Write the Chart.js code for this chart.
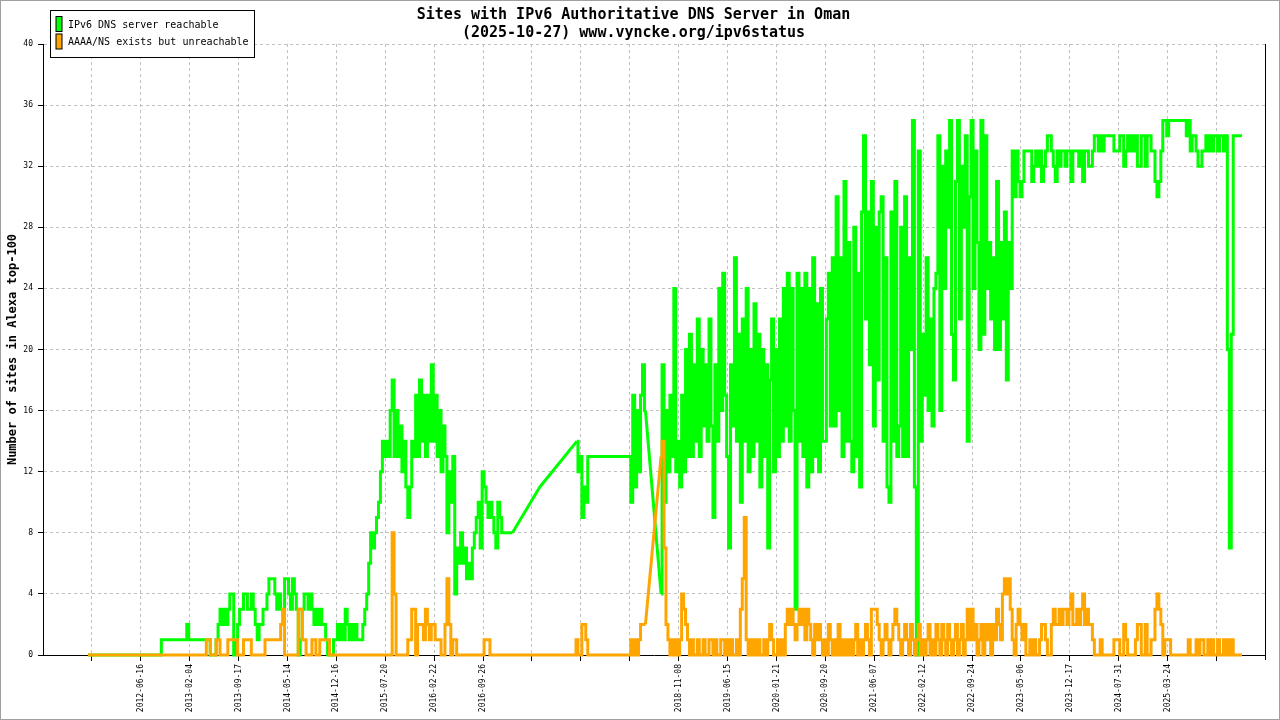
<!DOCTYPE html>
<html>
<head>
<meta charset="utf-8">
<script src="https://cdn.jsdelivr.net/npm/chart.js@4.4.1/dist/chart.umd.min.js"></script>
<style>
  html, body { margin: 0; padding: 0; background: #fff; }
  canvas { display: block; }
</style>
</head>
<body>
<canvas id="c" width="1280" height="720"></canvas>
<script>
// ---------- text ----------
const chartTitle = ['Sites with IPv6 Authoritative DNS Server in Oman', '(2025-10-27) www.vyncke.org/ipv6status'];
const yAxisTitle = 'Number of sites in Alexa top-100';
const seriesNames = ['IPv6 DNS server reachable', 'AAAA/NS exists but unreachable'];

// ---------- x axis: one entry per tick (empty = tick without label) ----------
const tickLabels = ['', '2012-06-16', '2013-02-04', '2013-09-17', '2014-05-14', '2014-12-16',
  '2015-07-20', '2016-02-22', '2016-09-26', '', '', '', '2018-11-08', '2019-06-15',
  '2020-01-21', '2020-09-20', '2021-06-07', '2022-02-12', '2022-09-24', '2023-05-06',
  '2023-12-17', '2024-07-31', '2025-03-24', ''];

// samples are read every 1/25 of a tick interval, starting just before the first tick
const sampleStart = -0.08;
const sampleStep = 0.04;

// ---------- series (null = no sample, a straight line spans the gap) ----------
const reachable = [
  0,0,
  0,0,0,0,0,0,0,0,0,0,0,0,0,0,0,0,0,0,0,0,0,0,0,0,0,
  0,0,0,0,0,0,0,0,0,0,0,1,1,1,1,1,1,1,1,1,1,1,1,1,2,
  1,1,1,1,1,1,1,1,1,1,1,0,0,0,1,2,3,2,3,2,3,4,4,0,1,
  2,3,3,4,4,3,3,4,3,2,1,2,2,3,3,4,5,5,5,4,3,4,3,3,5,
  5,4,3,5,4,3,0,1,3,4,4,3,4,3,2,3,2,3,2,2,1,0,0,0,1,
  1,2,1,2,1,3,2,1,2,1,2,1,1,1,2,3,4,6,8,7,8,9,10,12,14,
  13,14,13,16,18,13,16,13,15,12,14,11,9,11,14,13,17,13,18,14,17,13,17,14,19,
  14,17,13,16,12,15,13,8,12,10,13,4,7,6,8,6,7,5,6,5,7,8,9,10,7,
  12,11,10,9,10,9,8,7,10,9,8,8,8,8,8,8,null,null,null,null,null,null,null,null,null,
  null,null,null,null,11,null,null,null,null,null,null,null,null,null,null,null,null,null,null,null,null,null,null,14,12,
  13,9,11,10,13,13,13,13,13,13,13,13,13,13,13,13,13,13,13,13,13,13,13,13,13,
  13,10,17,11,16,12,17,19,16,null,null,null,null,null,null,null,4,19,10,16,12,17,13,24,12,
  14,11,17,12,20,13,21,13,19,14,22,13,20,15,19,14,22,15,9,19,14,24,16,25,17,
  13,7,19,15,26,14,21,10,22,14,24,12,20,13,23,14,21,11,20,13,19,7,18,22,12,
  20,13,22,14,24,15,25,14,24,16,3,25,14,24,13,25,11,24,12,26,13,23,12,24,14,
  14,22,25,15,26,15,30,16,26,13,31,14,27,14,12,28,13,25,11,29,34,22,29,19,31,
  15,28,18,29,30,14,26,11,10,29,14,31,13,15,28,13,30,13,26,20,35,11,0,33,14,
  21,17,26,16,22,15,24,25,34,16,32,24,33,28,35,21,18,31,35,22,32,28,34,14,30,
  35,24,33,27,20,35,21,34,24,27,22,26,20,31,20,27,22,29,18,27,24,33,30,33,31,
  30,31,33,33,33,33,31,32,33,32,33,31,32,33,34,34,33,32,31,33,32,33,33,32,33,
  33,31,33,33,33,32,33,31,33,33,32,32,33,34,34,33,34,33,34,34,34,34,34,33,33,
  33,34,34,32,33,34,33,34,33,34,32,32,34,34,32,34,34,33,33,31,30,31,33,35,35,
  34,35,35,35,35,35,35,35,35,35,34,35,33,34,34,33,32,32,33,33,34,33,34,33,34,
  34,33,34,34,33,34,20,7,21,34,34,34,34,34
];

const unreachable = [
  0,0,
  0,0,0,0,0,0,0,0,0,0,0,0,0,0,0,0,0,0,0,0,0,0,0,0,0,
  0,0,0,0,0,0,0,0,0,0,0,0,0,0,0,0,0,0,0,0,0,0,0,0,0,
  0,0,0,0,0,0,0,0,0,1,1,0,0,0,1,1,0,0,0,0,1,1,1,1,1,
  0,0,0,1,1,1,1,0,0,0,0,0,0,0,1,1,1,1,1,1,1,1,2,3,0,
  0,0,0,0,0,0,3,3,1,1,0,0,0,1,1,0,0,1,1,1,1,1,0,0,0,
  0,0,0,0,0,0,0,0,0,0,0,0,0,0,0,0,0,0,0,0,0,0,0,0,0,
  0,0,0,0,8,4,0,0,0,0,0,0,1,1,3,3,0,2,2,2,1,3,2,1,2,
  2,1,1,1,0,0,2,5,2,0,1,1,0,0,0,0,0,0,0,0,0,0,0,0,0,
  0,1,1,1,0,0,0,0,0,0,0,0,0,0,0,0,0,0,0,0,0,0,0,0,0,
  0,0,0,0,0,0,0,0,0,0,0,0,0,0,0,0,0,0,0,0,0,0,0,1,0,
  0,2,2,1,0,0,0,0,0,0,0,0,0,0,0,0,0,0,0,0,0,0,0,0,0,
  0,1,0,1,0,1,2,2,2,null,null,null,null,null,null,null,13,14,7,2,1,0,1,0,1,
  0,1,4,3,2,1,0,1,0,0,1,0,0,1,0,0,1,1,0,1,0,0,1,1,0,
  1,0,1,0,0,1,0,3,5,9,1,0,1,0,1,0,1,0,0,1,0,1,2,1,0,
  0,1,0,1,0,2,3,2,3,2,1,2,3,2,3,1,3,2,1,0,2,1,2,1,0,
  1,0,2,1,0,1,0,2,0,1,0,1,0,1,0,1,2,0,1,0,1,2,1,0,3,
  3,3,2,1,0,1,2,1,0,1,2,3,2,1,0,1,2,1,0,2,1,0,1,2,0,
  1,0,1,2,0,1,0,2,1,0,2,1,0,2,1,0,1,2,0,1,2,0,1,3,1,
  3,1,2,0,1,2,0,2,1,2,0,2,1,3,2,1,4,5,4,5,3,1,0,2,3,
  2,1,2,0,0,1,0,1,0,0,1,2,2,1,0,0,2,3,2,2,3,2,3,3,2,
  3,4,2,2,3,2,3,4,2,3,2,2,1,0,0,0,1,0,0,0,0,0,0,1,1,
  1,0,0,2,1,0,0,0,0,1,2,2,0,0,2,0,0,1,1,3,4,3,2,0,1,
  1,1,0,0,0,0,0,0,0,0,0,1,0,0,0,1,0,1,1,0,0,1,0,1,0,
  0,1,0,0,1,0,1,0,1,0,0,0,0,0
];

const seriesColors = ['#00ff00', '#ffa500'];
const yMax = 40;
const yStep = 4;
const xMin = -1.0;
const xMax = 23.99;

const toPoints = arr => arr.map((y, i) => ({ x: sampleStart + i * sampleStep, y: y }));

// each series: dense samples drawn as steps, gaps bridged with a straight line
function makeSeries(name, values, color, baseOrder) {
  return [
    { label: name, data: toPoints(values), borderColor: color, backgroundColor: color,
      borderWidth: 3, pointRadius: 0, stepped: 'middle', spanGaps: false,
      borderJoinStyle: 'miter', order: baseOrder + 1, clip: false },
    { label: name + ' (gap)', data: toPoints(values), borderColor: color, backgroundColor: color,
      borderWidth: 3, pointRadius: 0, spanGaps: true, tension: 0, borderJoinStyle: 'bevel',
      order: baseOrder, clip: false,
      segment: { borderColor: ctx => (ctx.p0.skip || ctx.p1.skip) ? color : 'rgba(0,0,0,0)' } }
  ];
}

const FONT = 'DejaVu Sans Mono';

const framePlugin = {
  id: 'frame',
  beforeDraw(chart) {
    const ctx = chart.ctx;
    ctx.save();
    ctx.fillStyle = '#ffffff';
    ctx.fillRect(0, 0, chart.width, chart.height);
    ctx.strokeStyle = '#a0a0a0';
    ctx.lineWidth = 1;
    ctx.strokeRect(0.5, 0.5, chart.width - 1, chart.height - 1);
    ctx.restore();
  },
  afterDraw(chart) {
    const a = chart.chartArea;
    const ctx = chart.ctx;
    ctx.save();
    ctx.strokeStyle = '#000';
    ctx.lineWidth = 1;
    ctx.beginPath();
    ctx.moveTo(Math.round(a.right) + 0.5, a.top);
    ctx.lineTo(Math.round(a.right) + 0.5, a.bottom + 5);
    ctx.stroke();
    ctx.restore();
  }
};

const boxLegend = {
  id: 'boxLegend',
  afterDraw(chart) {
    const ctx = chart.ctx;
    const a = chart.chartArea;
    const x = Math.round(a.left) + 7.5, y = 10.5, w = 204, h = 47;
    ctx.save();
    ctx.fillStyle = '#fff';
    ctx.fillRect(x, y, w, h);
    ctx.strokeStyle = '#000';
    ctx.lineWidth = 1;
    ctx.strokeRect(x, y, w, h);
    ctx.font = '10px "' + FONT + '"';
    ctx.textBaseline = 'middle';
    ctx.textAlign = 'left';
    seriesNames.forEach((name, i) => {
      const sy = y + 6 + i * 17.5;
      ctx.fillStyle = seriesColors[i];
      ctx.fillRect(x + 5.5, sy, 6, 15);
      ctx.strokeRect(x + 5.5, sy, 6, 15);
      ctx.fillStyle = '#000';
      ctx.fillText(name, x + 17.5, sy + 8.5);
    });
    ctx.restore();
  }
};

new Chart(document.getElementById('c').getContext('2d'), {
  type: 'line',
  data: {
    datasets: [
      ...makeSeries(seriesNames[0], reachable, seriesColors[0], 3),
      ...makeSeries(seriesNames[1], unreachable, seriesColors[1], 1)
    ]
  },
  options: {
    responsive: false,
    animation: false,
    devicePixelRatio: 1,
    events: [],
    layout: { padding: { left: 2, right: 15, top: 0, bottom: 8 } },
    plugins: {
      legend: { display: false },
      tooltip: { enabled: false },
      title: {
        display: true, text: chartTitle, color: '#000',
        font: { family: FONT, size: 15, weight: 'bold', lineHeight: 1.2 },
        padding: { top: 6, bottom: 2 }
      }
    },
    scales: {
      x: {
        type: 'linear', min: xMin, max: xMax,
        afterBuildTicks: scale => { scale.ticks = tickLabels.map((_, i) => ({ value: i })); },
        afterFit: scale => { scale.height = 57; },
        ticks: {
          autoSkip: false, minRotation: 90, maxRotation: 90, padding: 3, color: '#000',
          font: { family: FONT, size: 8 },
          callback: v => tickLabels[v] !== undefined ? tickLabels[v] : ''
        },
        grid: { color: '#c0c0c0', lineWidth: 1, tickColor: '#000', tickLength: 6 },
        border: { color: '#000', width: 1, dash: [3, 3] }
      },
      y: {
        min: 0, max: yMax,
        afterFit: scale => { scale.width = 41; },
        ticks: { stepSize: yStep, padding: 5, color: '#000', font: { family: FONT, size: 8 } },
        title: { display: true, text: yAxisTitle, color: '#000',
          font: { family: FONT, size: 12, weight: 'bold' }, padding: { top: 4, bottom: 4 } },
        grid: { color: '#c0c0c0', lineWidth: 1, tickColor: '#000', tickLength: 5 },
        border: { color: '#000', width: 1, dash: [3, 3] }
      }
    }
  },
  plugins: [framePlugin, boxLegend]
});
</script>
</body>
</html>
